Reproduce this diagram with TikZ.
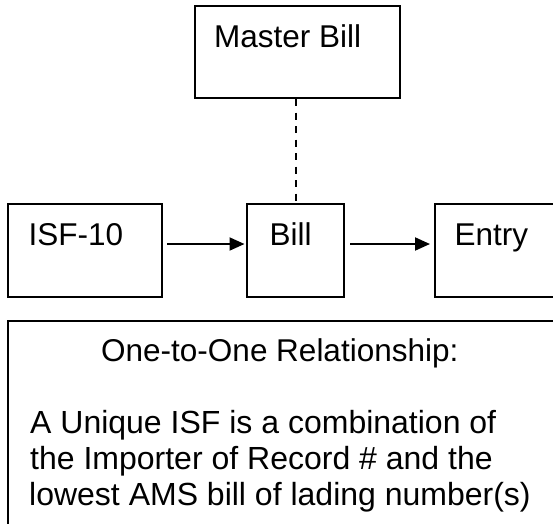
\documentclass[tikz,border=0pt]{standalone}
\usepackage{fontspec}
\setmainfont{Liberation Sans}
\usetikzlibrary{arrows.meta}

\tikzset{
  box/.style={draw=black, line width=2pt, rectangle, inner sep=0pt, fill=white},
  label/.style={anchor=base west, inner sep=0pt, font=\fontsize{31.5}{36}\selectfont},
  bodytext/.style={anchor=base west, inner sep=0pt, font=\fontsize{32}{36}\selectfont},
  link/.style={line width=2pt, -{Triangle[length=15pt,width=13pt]}},
  dashlink/.style={line width=2pt, dash pattern=on 7pt off 6.5pt}
}

\begin{document}
\begin{tikzpicture}[x=1pt, y=-1pt]
  % canvas: 553 x 523, boxes on the right and bottom run past the edge
  \useasboundingbox (0,0) rectangle (553,523);
  \clip (0,0) rectangle (553,523);
  \fill[white] (0,0) rectangle (553,523);

  % boxes
  \node[box, minimum width=205pt, minimum height=92.5pt] (master) at (297.5,51.75) {};
  \node[box, minimum width=154pt, minimum height=93pt]   (isf)    at (85,250.5) {};
  \node[box, minimum width=97pt,  minimum height=93pt]   (bill)   at (295.5,250.5) {};
  \node[box, minimum width=165pt, minimum height=93pt]   (entry)  at (517.5,250.5) {};
  \node[box, minimum width=592pt, minimum height=279pt]  (note)   at (304,460.5) {};

  % box captions
  \node[label] (tmaster) at (214,47)  {Master Bill};
  \node[label] (tisf)    at (28.5,245) {ISF-10};
  \node[label] (tbill)   at (269.5,245) {Bill};
  \node[label] (tentry)  at (454.5,245) {Entry};

  % note text
  \node[label]    (nhead)  at (101,361) {One-to-One Relationship:};
  \node[bodytext] (nline1) at (30,433)  {A Unique ISF is a combination of};
  \node[bodytext] (nline2) at (30,469)  {the Importer of Record \# and the};
  \node[bodytext] (nline3) at (29,505)  {lowest AMS bill of lading number(s)};

  % connectors
  \draw[dashlink] (master.south -| bill.north) -- (bill.north);
  \draw[link, shorten <=4pt, shorten >=1.5pt]
    ([yshift=6.5pt]isf.east) -- ([yshift=6.5pt]bill.west);
  \draw[link, shorten <=5pt, shorten >=4pt]
    ([yshift=6.5pt]bill.east) -- ([yshift=6.5pt]entry.west);
\end{tikzpicture}
\end{document}
